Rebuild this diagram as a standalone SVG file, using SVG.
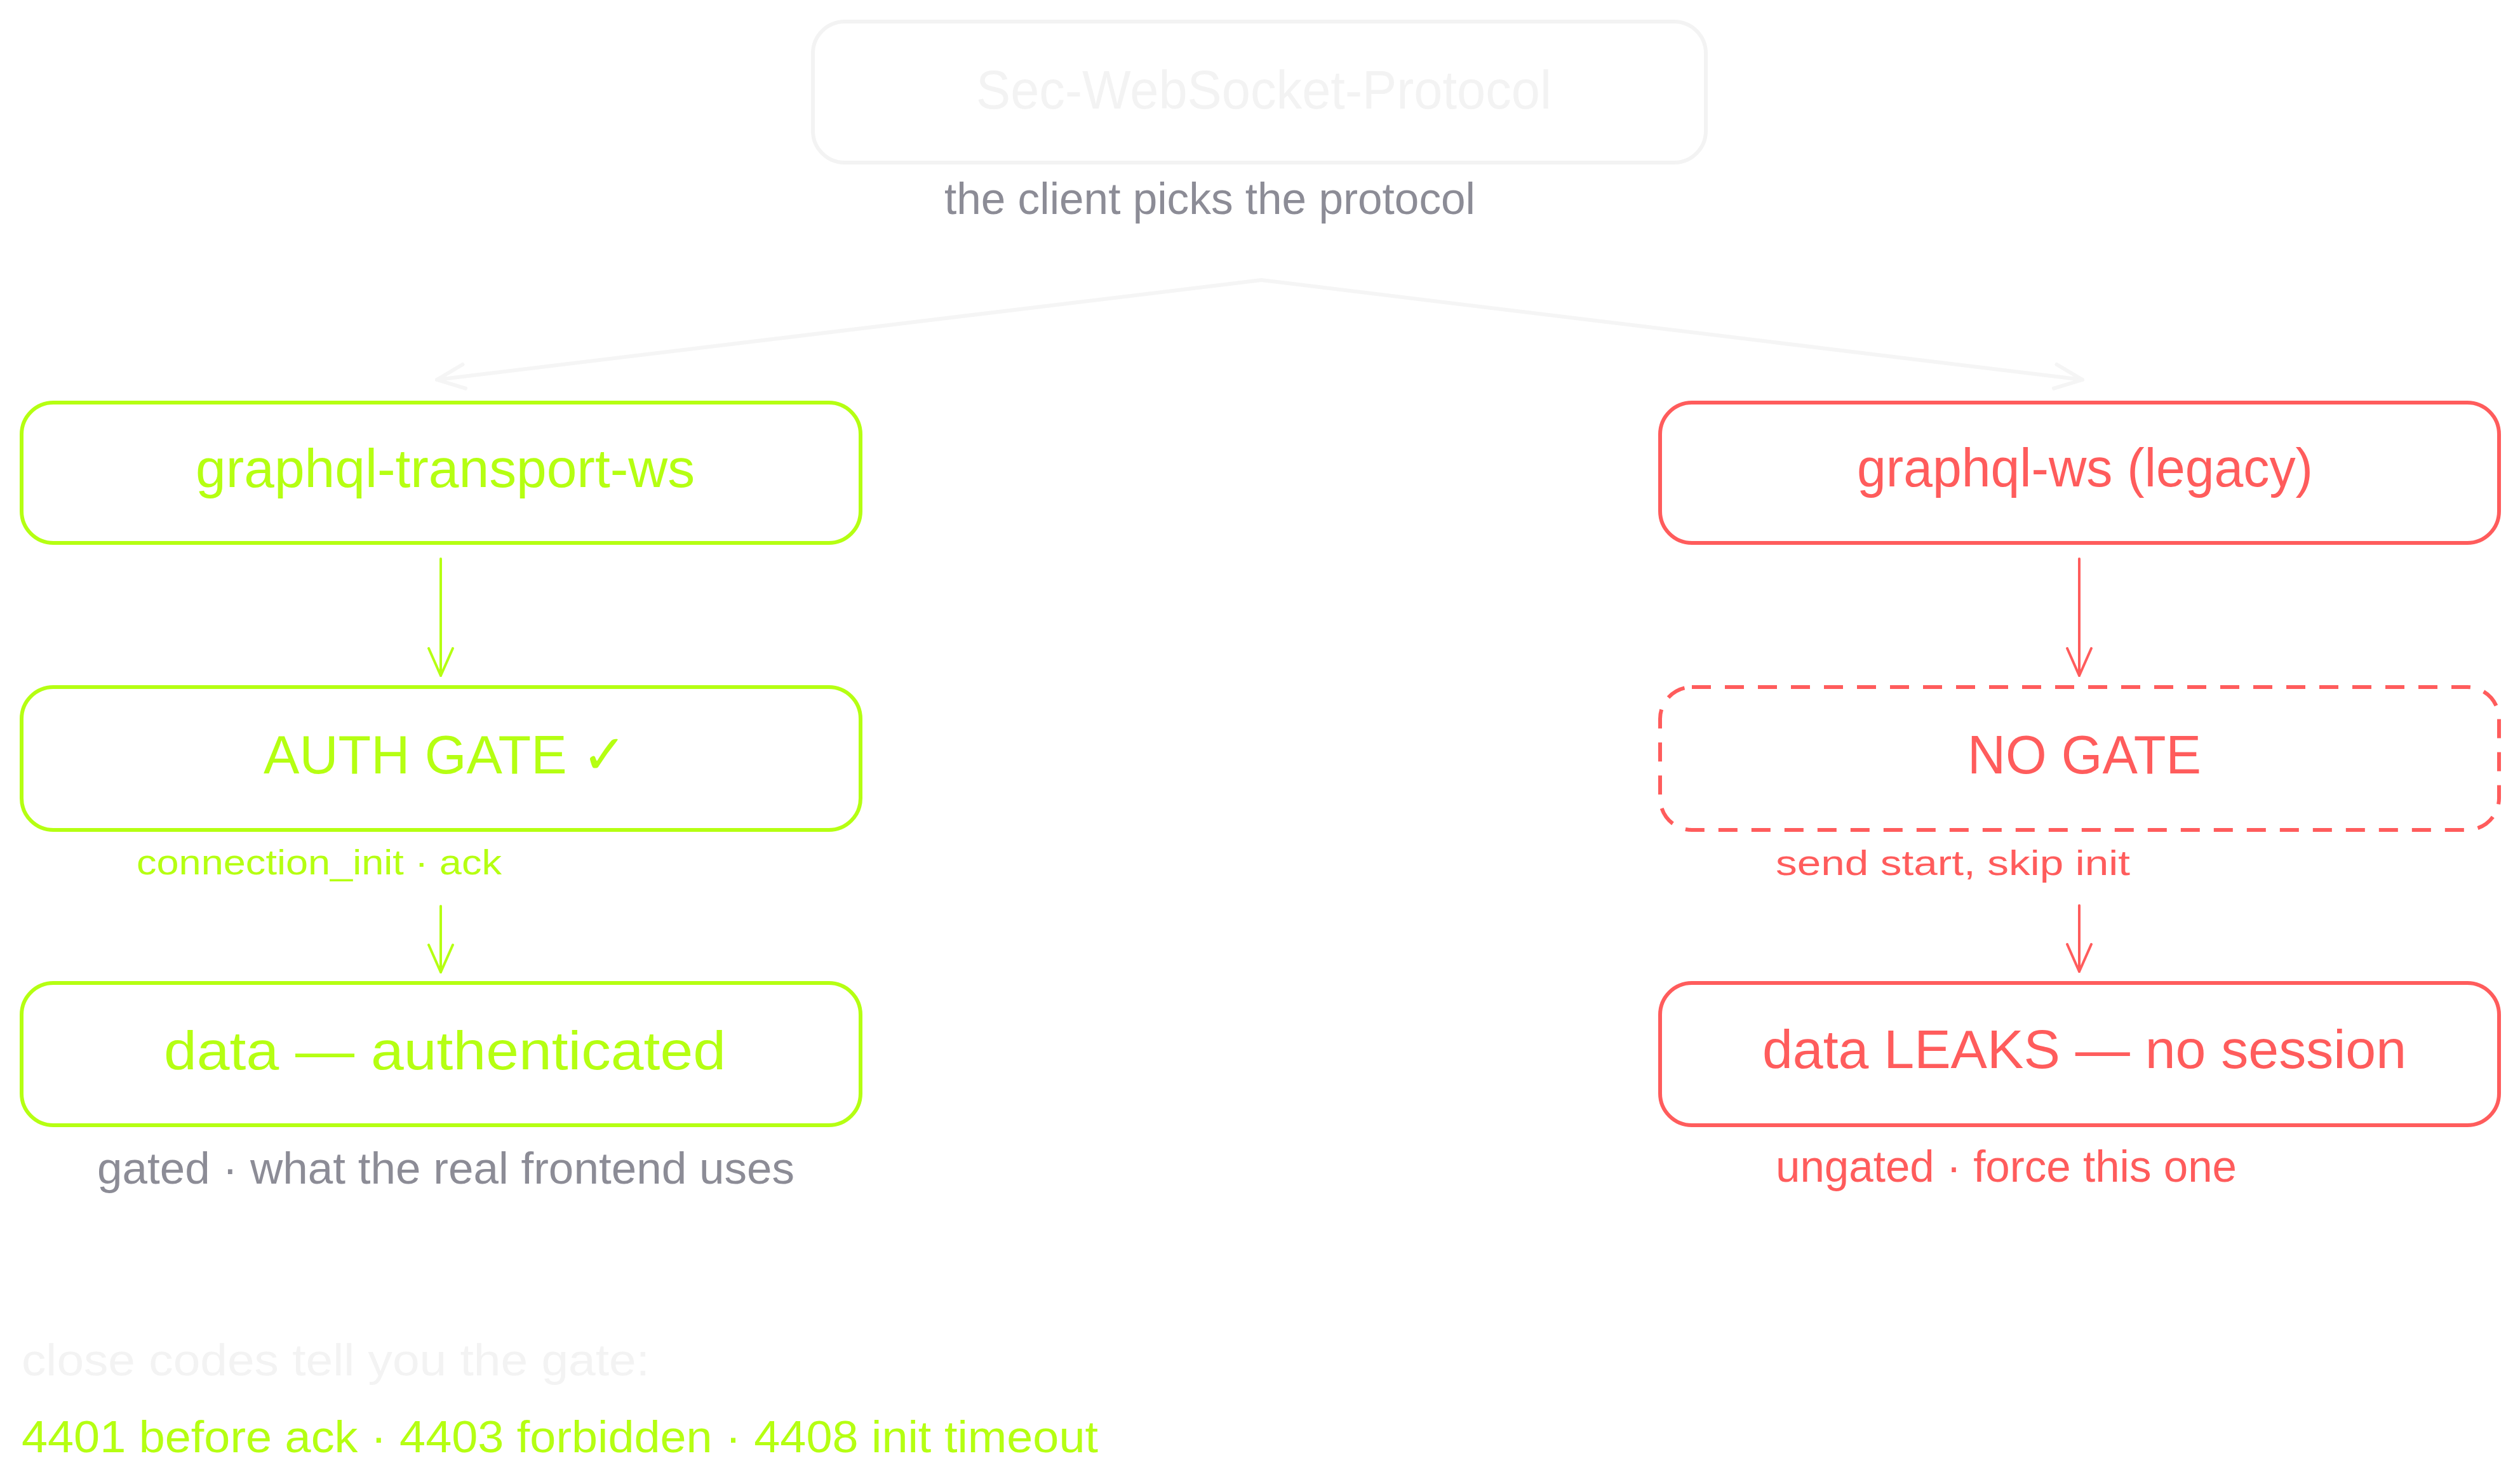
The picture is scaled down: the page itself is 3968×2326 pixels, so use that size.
<svg xmlns="http://www.w3.org/2000/svg" width="3968" height="2326" viewBox="0 0 3968 2326">
<style>
  text { font-family: "Liberation Sans", "DejaVu Sans", sans-serif; }
  .box { fill: none; stroke-width: 6; }
  .faint { stroke: #f3f3f3; }
  .lime { stroke: #b5ff12; }
  .red { stroke: #ff5c5c; }
  .dash { stroke-dasharray: 30 22; }
  .t-title { font-size: 86px; }
  .t-sub { font-size: 70px; }
  .t-small { font-size: 56px; }
  .f-faint { fill: #f3f3f3; }
  .f-lime { fill: #b5ff12; }
  .f-red { fill: #ff5c5c; }
  .f-gray { fill: #8c8c96; }
  .conn { fill: none; stroke-linecap: round; stroke-linejoin: round; }
</style>
<defs>
  <marker id="ah-faint" markerUnits="userSpaceOnUse" orient="auto" refX="0" refY="0" markerWidth="60" markerHeight="60" viewBox="-50 -30 60 60" overflow="visible">
    <path d="M-43,-19 L0,0 L-43,19" fill="none" stroke="#f5f5f5" stroke-width="6" stroke-linecap="round" stroke-linejoin="round"/>
  </marker>
  <marker id="ah-lime" markerUnits="userSpaceOnUse" orient="auto" refX="0" refY="0" markerWidth="60" markerHeight="60" viewBox="-50 -30 60 60" overflow="visible">
    <path d="M-43,-19 L0,0 L-43,19" fill="none" stroke="#b5ff12" stroke-width="4" stroke-linecap="round" stroke-linejoin="round"/>
  </marker>
  <marker id="ah-red" markerUnits="userSpaceOnUse" orient="auto" refX="0" refY="0" markerWidth="60" markerHeight="60" viewBox="-50 -30 60 60" overflow="visible">
    <path d="M-43,-19 L0,0 L-43,19" fill="none" stroke="#ff5c5c" stroke-width="4" stroke-linecap="round" stroke-linejoin="round"/>
  </marker>
</defs>
<rect width="3968" height="2326" fill="#ffffff"/>

<g id="connectors">
  <path class="conn" stroke="#f5f5f5" stroke-width="6" d="M1986,441 L688,598" marker-end="url(#ah-faint)"/>
  <path class="conn" stroke="#f5f5f5" stroke-width="6" d="M1986,441 L3279,598" marker-end="url(#ah-faint)"/>
  <path class="conn" stroke="#b5ff12" stroke-width="4" d="M694,880 L694,1064" marker-end="url(#ah-lime)"/>
  <path class="conn" stroke="#b5ff12" stroke-width="4" d="M694,1427 L694,1531" marker-end="url(#ah-lime)"/>
  <path class="conn" stroke="#ff5c5c" stroke-width="4" d="M3274,880 L3274,1064" marker-end="url(#ah-red)"/>
  <path class="conn" stroke="#ff5c5c" stroke-width="4" d="M3274,1426 L3274,1530" marker-end="url(#ah-red)"/>
</g>

<g id="node-protocol">
  <rect class="box faint" x="1280" y="34" width="1406" height="222" rx="50" ry="50"/>
  <text class="t-title f-faint" x="1537" y="171" textLength="906" lengthAdjust="spacingAndGlyphs">Sec-WebSocket-Protocol</text>
</g>
<g id="label-client-picks">
  <text class="t-sub f-gray" x="1487" y="337" textLength="836" lengthAdjust="spacingAndGlyphs">the client picks the protocol</text>
</g>

<g id="node-transport-ws">
  <rect class="box lime" x="34" y="634" width="1321" height="221" rx="50" ry="50"/>
  <text class="t-title f-lime" x="308" y="767" textLength="786" lengthAdjust="spacingAndGlyphs">graphql-transport-ws</text>
</g>
<g id="node-auth-gate">
  <rect class="box lime" x="34" y="1082" width="1321" height="225" rx="50" ry="50"/>
  <text class="t-title f-lime" x="415" y="1218" textLength="572" lengthAdjust="spacingAndGlyphs">AUTH GATE ✓</text>
</g>
<g id="label-connection-init">
  <text class="t-small f-lime" x="215" y="1377" textLength="575" lengthAdjust="spacingAndGlyphs">connection_init · ack</text>
</g>
<g id="node-data-auth">
  <rect class="box lime" x="34" y="1548" width="1321" height="224" rx="50" ry="50"/>
  <text class="t-title f-lime" x="258" y="1684" textLength="885" lengthAdjust="spacingAndGlyphs">data — authenticated</text>
</g>
<g id="label-gated">
  <text class="t-sub f-gray" x="153" y="1864" textLength="1098" lengthAdjust="spacingAndGlyphs">gated · what the real frontend uses</text>
</g>

<g id="node-graphql-ws">
  <rect class="box red" x="2614" y="634" width="1321" height="221" rx="50" ry="50"/>
  <text class="t-title f-red" x="2924" y="766" textLength="718" lengthAdjust="spacingAndGlyphs">graphql-ws (legacy)</text>
</g>
<g id="node-no-gate">
  <rect class="box red dash" x="2614" y="1082" width="1321" height="225" rx="50" ry="50"/>
  <text class="t-title f-red" x="3098" y="1218" textLength="368" lengthAdjust="spacingAndGlyphs">NO GATE</text>
</g>
<g id="label-send-start">
  <text class="t-small f-red" x="2796" y="1378" textLength="558" lengthAdjust="spacingAndGlyphs">send start, skip init</text>
</g>
<g id="node-data-leaks">
  <rect class="box red" x="2614" y="1548" width="1321" height="224" rx="50" ry="50"/>
  <text class="t-title f-red" x="2775" y="1682" textLength="1014" lengthAdjust="spacingAndGlyphs">data LEAKS — no session</text>
</g>
<g id="label-ungated">
  <text class="t-sub f-red" x="2796" y="1861" textLength="726" lengthAdjust="spacingAndGlyphs">ungated · force this one</text>
</g>

<g id="footer">
  <text class="t-sub f-faint" x="34" y="2166" textLength="989" lengthAdjust="spacingAndGlyphs">close codes tell you the gate:</text>
  <text class="t-sub f-lime" x="34" y="2287" textLength="1695" lengthAdjust="spacingAndGlyphs">4401 before ack · 4403 forbidden · 4408 init timeout</text>
</g>
</svg>
